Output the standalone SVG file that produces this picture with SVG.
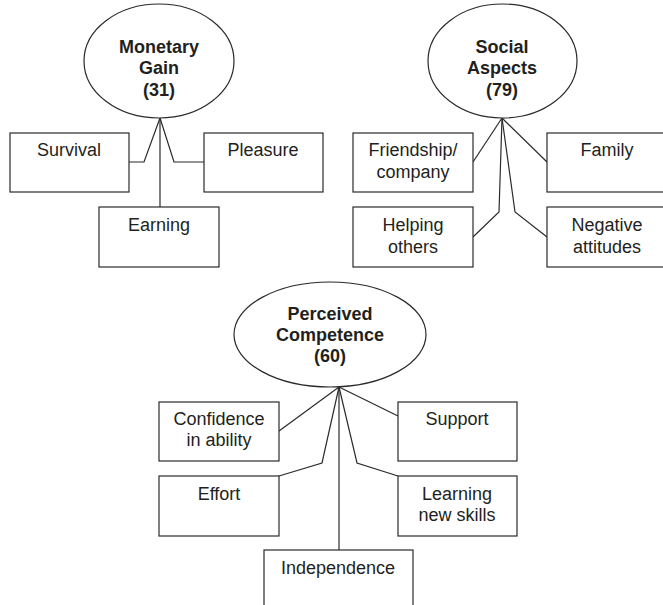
<svg xmlns="http://www.w3.org/2000/svg" width="663" height="605" viewBox="0 0 663 605">
<style>
.bg{fill:#fff}
.n ellipse,.n rect{fill:#fff;stroke:#2a2a2a;stroke-width:1.2}
#connectors polyline{fill:none;stroke:#2a2a2a;stroke-width:1.2}
text{font-family:"Liberation Sans",Arial,sans-serif;font-size:18px;fill:#231f20;text-anchor:middle}
.h{font-weight:bold}
</style>
<rect class="bg" width="663" height="605"/>
<g id="connectors">
<polyline points="129,162 144,162 160,118"/>
<polyline points="204,162 174,162 160,118"/>
<polyline points="160,118 160,207"/>
<polyline points="473,162 502,118"/>
<polyline points="547,162 502,118"/>
<polyline points="473,237 499,212 502,118"/>
<polyline points="547,237 515,212 502,118"/>
<polyline points="279,431 339,387"/>
<polyline points="398,416 339,387"/>
<polyline points="279,476 322,463 339,387"/>
<polyline points="398,476 357,463 339,387"/>
<polyline points="339,387 339,550"/>
</g>
<g id="monetary" class="n"><ellipse cx="159" cy="61" rx="75" ry="57"/><text class="h" x="159" y="53">Monetary</text><text class="h" x="159" y="74">Gain</text><text class="h" x="159" y="96">(31)</text></g>
<g id="survival" class="n"><rect x="10" y="133" width="119" height="59"/><text x="69" y="156">Survival</text></g>
<g id="pleasure" class="n"><rect x="204" y="133" width="119" height="59"/><text x="263" y="156">Pleasure</text></g>
<g id="earning" class="n"><rect x="99" y="207" width="120" height="60"/><text x="159" y="231">Earning</text></g>
<g id="social" class="n"><ellipse cx="502.5" cy="61" rx="74.5" ry="57"/><text class="h" x="502" y="53">Social</text><text class="h" x="502" y="74">Aspects</text><text class="h" x="502" y="96">(79)</text></g>
<g id="friendship" class="n"><rect x="353" y="133" width="120" height="59"/><text x="413" y="156">Friendship/</text><text x="413" y="178">company</text></g>
<g id="family" class="n"><rect x="547" y="133" width="120" height="59"/><text x="607" y="156">Family</text></g>
<g id="helping" class="n"><rect x="353" y="207" width="120" height="60"/><text x="413" y="231">Helping</text><text x="413" y="253">others</text></g>
<g id="negative" class="n"><rect x="547" y="207" width="120" height="60"/><text x="607" y="231">Negative</text><text x="607" y="253">attitudes</text></g>
<g id="perceived" class="n"><ellipse cx="330" cy="334.5" rx="96" ry="52.5"/><text class="h" x="330" y="320">Perceived</text><text class="h" x="330" y="341">Competence</text><text class="h" x="330" y="362">(60)</text></g>
<g id="confidence" class="n"><rect x="159" y="402" width="120" height="59"/><text x="219" y="425">Confidence</text><text x="219" y="446">in ability</text></g>
<g id="support" class="n"><rect x="398" y="402" width="119" height="59"/><text x="457" y="425">Support</text></g>
<g id="effort" class="n"><rect x="159" y="476" width="120" height="60"/><text x="219" y="500">Effort</text></g>
<g id="learning" class="n"><rect x="398" y="476" width="119" height="60"/><text x="457" y="500">Learning</text><text x="457" y="521">new skills</text></g>
<g id="independence" class="n"><rect x="264" y="550" width="149" height="70"/><text x="338" y="574">Independence</text></g>
</svg>
